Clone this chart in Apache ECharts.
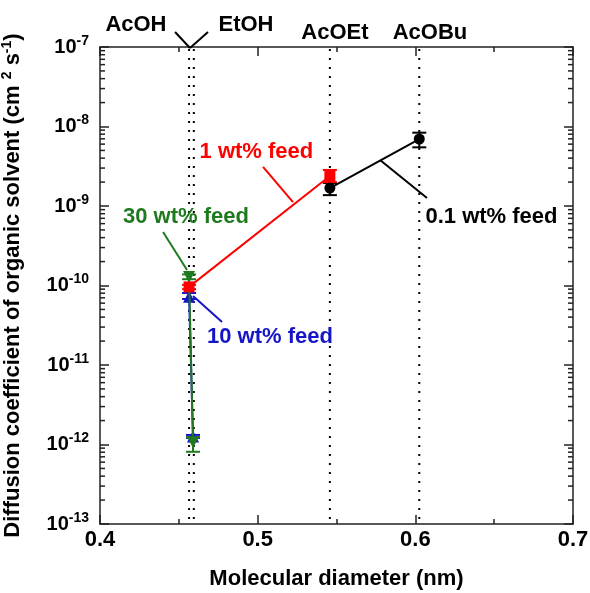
<!DOCTYPE html>
<html>
<head>
<meta charset="utf-8">
<script src="https://cdn.jsdelivr.net/npm/echarts@6/dist/echarts.min.js"></script>
<style>
html,body{margin:0;padding:0;background:#fff;}
#chart{width:590px;height:593px;}
</style>
</head>
<body>
<div id="chart"></div>
<script>
// ---- data (molecular diameter in nm, diffusion coefficient in cm2/s) ----
const solventNames = ['AcOH', 'EtOH', 'AcOEt', 'AcOBu'];
const solventDiam = [0.4565, 0.4595, 0.5458, 0.6025];

// 1 wt% feed
const feed1X = [0.4565, 0.5458];
const feed1D = [9.6e-11, 2.38e-9];
const feed1Lo = [9.0e-11, 2.0e-9];
const feed1Hi = [1.02e-10, 2.84e-9];

// 0.1 wt% feed
const feed01X = [0.5458, 0.6025];
const feed01D = [1.68e-9, 6.96e-9];
const feed01Lo = [1.37e-9, 5.47e-9];
const feed01Hi = [1.95e-9, 8.36e-9];

// 30 wt% feed
const feed30X = [0.4565, 0.4590];
const feed30D = [1.28e-10, 1.07e-12];
const feed30Lo = [1.2e-10, 8.1e-13];
const feed30Hi = [1.38e-10, 1.24e-12];

// 10 wt% feed
const feed10X = [0.4565, 0.4590];
const feed10D = [7.2e-11, 1.26e-12];
const feed10Lo = [6.76e-11, 1.21e-12];
const feed10Hi = [8.05e-11, 1.32e-12];

const yMinorTicks = [];
for (let d = -13; d <= -8; d++) for (let m = 2; m <= 9; m++) yMinorTicks.push(m * Math.pow(10, d));

// ---- styles ----
const FONT = '"Liberation Sans", Arial, Helvetica, sans-serif';
const RED = '#ff0000', GREEN = '#1f7a1f', BLUE = '#1515c8', BLACK = '#000000';
const AX = '#222';

const chart = echarts.init(document.getElementById('chart'), null, {renderer: 'canvas'});

function pts(xs, ys) { return xs.map((x, i) => [x, ys[i]]); }
function errs(xs, ys, lo, hi) { return xs.map((x, i) => [x, ys[i], lo[i], hi[i]]); }

function errSeries(data, color) {
  return {
    type: 'custom', xAxisIndex: 0, yAxisIndex: 0, silent: true, z: 3,
    data: data,
    renderItem: function (params, api) {
      const x = api.value(0);
      const a = api.coord([x, api.value(2)]);
      const b = api.coord([x, api.value(3)]);
      const hw = 7;
      const st = {stroke: color, lineWidth: 2};
      return {type: 'group', children: [
        {type: 'line', shape: {x1: a[0], y1: a[1], x2: b[0], y2: b[1]}, style: st},
        {type: 'line', shape: {x1: a[0] - hw, y1: a[1], x2: a[0] + hw, y2: a[1]}, style: st},
        {type: 'line', shape: {x1: b[0] - hw, y1: b[1], x2: b[0] + hw, y2: b[1]}, style: st}
      ]};
    }
  };
}

function lineSeries(data, color, symbol, size, rotate, z) {
  return {
    type: 'line', xAxisIndex: 0, yAxisIndex: 0, data: data,
    symbol: symbol, symbolSize: size, symbolRotate: rotate || 0, showSymbol: true,
    lineStyle: {color: color, width: 2}, itemStyle: {color: color},
    z: z, silent: true, animation: false
  };
}

const axisLine = {show: true, onZero: false, lineStyle: {color: AX, width: 1.5}};
const axisTick = {show: true, inside: true, length: 9, lineStyle: {color: AX, width: 1.5}};
const minorTick = {show: true, splitNumber: 2, length: 5, lineStyle: {color: AX, width: 1.5}};

const option = {
  animation: false,
  backgroundColor: '#fff',
  grid: {left: 100, right: 17, top: 47, bottom: 69, containLabel: false, outerBoundsMode: 'none'},
  xAxis: [
    {type: 'value', position: 'bottom', min: 0.4, max: 0.7, interval: 0.1,
     axisLine: axisLine, axisTick: axisTick, minorTick: minorTick, splitLine: {show: false},
     axisLabel: {fontSize: 22, fontWeight: 'bold', fontFamily: FONT, color: '#000', margin: 5,
                 formatter: v => v.toFixed(1)},
     name: 'Molecular diameter (nm)', nameLocation: 'middle', nameGap: 44,
     nameTextStyle: {fontSize: 22, fontWeight: 'bold', fontFamily: FONT, color: '#000'}},
    {type: 'value', position: 'top', min: 0.4, max: 0.7, interval: 0.1,
     axisLine: axisLine, axisTick: axisTick, minorTick: minorTick, splitLine: {show: false},
     axisLabel: {show: false}}
  ],
  yAxis: [
    {type: 'log', logBase: 10, min: 1e-13, max: 1e-7, interval: 1, position: 'left',
     axisLine: axisLine, axisTick: axisTick, splitLine: {show: false},
     axisLabel: {margin: 11, fontFamily: FONT, color: '#000',
       formatter: v => '{b|10}{s|' + Math.round(Math.log10(v)) + '}',
       rich: {b: {fontSize: 20, fontWeight: 'bold', fontFamily: FONT, color: '#000', lineHeight: 26},
              s: {fontSize: 14, fontWeight: 'bold', fontFamily: FONT, color: '#000', verticalAlign: 'top'}}},
     name: '{t|Diffusion coefficient of organic solvent (cm }{s|2}{t| s}{s|-1}{t|)}',
     nameLocation: 'middle', nameRotate: 90, nameGap: 74,
     nameTextStyle: {fontFamily: FONT, color: '#000',
       rich: {t: {fontSize: 22, fontWeight: 'bold', fontFamily: FONT, color: '#000', lineHeight: 26},
              s: {fontSize: 14, fontWeight: 'bold', fontFamily: FONT, color: '#000', verticalAlign: 'top'}}}},
    {type: 'log', logBase: 10, min: 1e-13, max: 1e-7, interval: 1, position: 'right',
     axisLine: axisLine, axisTick: axisTick, splitLine: {show: false}, axisLabel: {show: false}}
  ],
  series: [
    // minor log ticks on both vertical edges
    {type: 'custom', xAxisIndex: 0, yAxisIndex: 0, silent: true, z: 1,
     data: yMinorTicks.map(v => [0.5, v]),
     renderItem: function (params, api) {
       const y = api.coord([api.value(0), api.value(1)])[1];
       const cs = params.coordSys;
       const st = {stroke: AX, lineWidth: 1.5};
       return {type: 'group', children: [
         {type: 'line', shape: {x1: cs.x, y1: y, x2: cs.x + 5, y2: y}, style: st},
         {type: 'line', shape: {x1: cs.x + cs.width - 5, y1: y, x2: cs.x + cs.width, y2: y}, style: st}
       ]};
     }},
    // dotted reference lines at solvent diameters
    {type: 'custom', xAxisIndex: 0, yAxisIndex: 0, silent: true, z: 1,
     data: solventDiam.map(d => [d, 1e-10]),
     renderItem: function (params, api) {
       const x = api.coord([api.value(0), api.value(1)])[0];
       const cs = params.coordSys;
       return {type: 'line', shape: {x1: x, y1: cs.y + 2, x2: x, y2: cs.y + cs.height},
               style: {stroke: '#000', lineWidth: 2, lineDash: [2, 7]}};
     }},
    errSeries(errs(feed10X, feed10D, feed10Lo, feed10Hi), BLUE),
    lineSeries(pts(feed10X, feed10D), BLUE, 'triangle', 12, 0, 4),
    errSeries(errs(feed30X, feed30D, feed30Lo, feed30Hi), GREEN),
    lineSeries(pts(feed30X, feed30D), GREEN, 'triangle', 12, 180, 5),
    errSeries(errs(feed01X, feed01D, feed01Lo, feed01Hi), BLACK),
    lineSeries(pts(feed01X, feed01D), BLACK, 'circle', 11, 0, 6),
    errSeries(errs(feed1X, feed1D, feed1Lo, feed1Hi), RED),
    lineSeries(pts(feed1X, feed1D), RED, 'rect', 11, 0, 7)
  ]
};
chart.setOption(option);

// ---- annotations anchored in data coordinates ----
const annoTexts = [
  {t: 'AcOH', x: 0.4228, y: 1.89e-7, c: BLACK},
  {t: 'EtOH', x: 0.4926, y: 1.89e-7, c: BLACK},
  {t: 'AcOEt', x: 0.549, y: 1.5e-7, c: BLACK},
  {t: 'AcOBu', x: 0.6093, y: 1.5e-7, c: BLACK},
  {t: '1 wt% feed', x: 0.4992, y: 4.78e-9, c: RED},
  {t: '30 wt% feed', x: 0.4545, y: 7.27e-10, c: GREEN},
  {t: '10 wt% feed', x: 0.5078, y: 2.25e-11, c: BLUE},
  {t: '0.1 wt% feed', x: 0.6483, y: 7.27e-10, c: BLACK}
];
const annoLines = [
  {a: [0.4476, 1.545e-7], b: [0.4571, 9.7e-8], c: BLACK},
  {a: [0.4685, 1.545e-7], b: [0.4571, 9.7e-8], c: BLACK},
  {a: [0.5034, 3.1e-9], b: [0.5224, 1.12e-9], c: RED},
  {a: [0.44, 4.71e-10], b: [0.4552, 1.57e-10], c: GREEN},
  {a: [0.4774, 3.47e-11], b: [0.459, 7.38e-11], c: BLUE},
  {a: [0.6074, 1.26e-9], b: [0.5776, 3.79e-9], c: BLACK}
];
const toPx = p => chart.convertToPixel({xAxisIndex: 0, yAxisIndex: 0}, p);
const graphics = [];
annoLines.forEach(l => {
  const a = toPx(l.a), b = toPx(l.b);
  graphics.push({type: 'line', silent: true, z: 20,
    shape: {x1: a[0], y1: a[1], x2: b[0], y2: b[1]}, style: {stroke: l.c, lineWidth: 2}});
});
annoTexts.forEach(o => {
  const p = toPx([o.x, o.y]);
  graphics.push({type: 'text', silent: true, z: 20, x: p[0], y: p[1],
    style: {text: o.t, fill: o.c, font: 'bold 22px ' + FONT,
            align: 'center', verticalAlign: 'middle', textAlign: 'center', textVerticalAlign: 'middle'}});
});
chart.setOption({graphic: graphics});
</script>
</body>
</html>
